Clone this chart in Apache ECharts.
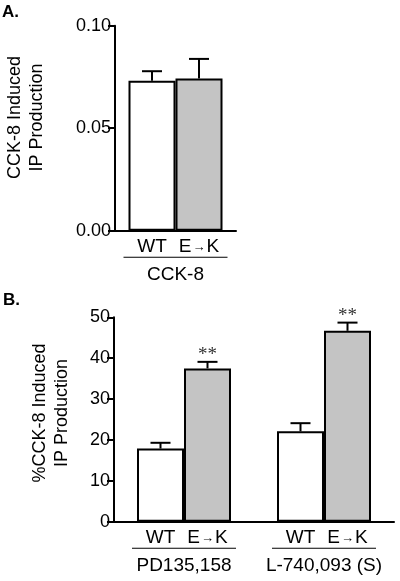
<!DOCTYPE html>
<html>
<head>
<meta charset="utf-8">
<script src="https://cdn.jsdelivr.net/npm/echarts@6/dist/echarts.min.js"></script>
<style>
  html, body { margin: 0; padding: 0; background: #fff; }
  #chart { width: 400px; height: 581px; }
</style>
</head>
<body>
<div id="chart"></div>
<script>
// panel A data
const catsA = ["CCK-8"]
const wtA = [0.0732]
const ekA = [0.0743]
const wtErrA = [0.0046]
const ekErrA = [0.0095]
const sigA = [""]

// panel B data
const catsB = ["PD135,158", "L-740,093 (S)"]
const wtB = [17.9, 22.1]
const ekB = [37.5, 46.7]
const wtErrB = [1.4, 2.0]
const ekErrB = [1.6, 2.0]
const sigB = ["**", "**"]

const seriesNames = ["WT", "E\u2192K"]
const FONT = "Liberation Sans"
const GRAY = "#c4c4c4"

// error bar drawn from bar top upward, offset to the bar's slot
function errorBar(values, errs, sig, offset) {
  return {
    data: values.map((v, i) => [i, v, errs[i]]),
    renderItem: (params, api) => {
      const i = api.value(0)
      const base = api.coord([i, api.value(1)])
      const top = api.coord([i, api.value(1) + api.value(2)])
      const x = base[0] + offset
      const style = { stroke: "#000", lineWidth: 2 }
      const children = [
        { type: "line", shape: { x1: x, y1: base[1], x2: x, y2: top[1] }, style },
        { type: "line", shape: { x1: x - 10, y1: top[1], x2: x + 10, y2: top[1] }, style }
      ]
      if (sig[i]) {
        children.push({
          type: "text",
          style: {
            text: sig[i], x: x, y: top[1] - 7,
            align: "center", verticalAlign: "middle",
            font: "19px 'Liberation Serif'", fill: "#333"
          }
        })
      }
      return { type: "group", children }
    }
  }
}

function barSeries(name, values, axisIdx, fill) {
  return {
    type: "bar",
    name,
    xAxisIndex: axisIdx,
    yAxisIndex: axisIdx,
    data: values,
    barWidth: 47,
    barGap: "0%",
    itemStyle: { color: fill, borderColor: "#000", borderWidth: 2 },
    label: {
      show: true, position: "bottom", distance: 7,
      color: "#000", fontFamily: FONT, fontSize: 19,
      // small arrow between E and K, as in the figure
      formatter: () => "{t|" + name.replace("\u2192", "}{a|\u2192}{t|") + "}",
      rich: {
        t: { color: "#000", fontFamily: FONT, fontSize: 19 },
        a: { color: "#000", fontFamily: FONT, fontSize: 13, padding: [1, 1, 0, 1] }
      }
    },
    z: 2
  }
}

function errSeries(values, errs, sig, axisIdx, offset) {
  return Object.assign({
    type: "custom",
    xAxisIndex: axisIdx,
    yAxisIndex: axisIdx,
    encode: { x: 0, y: 1 },
    silent: true,
    z: 3
  }, errorBar(values, errs, sig, offset))
}

const xAxisCommon = {
  type: "category",
  axisLine: { lineStyle: { color: "#000", width: 2 } },
  axisTick: { show: false },
  axisLabel: {
    margin: 26,
    interval: 0,
    color: "#000",
    fontFamily: FONT,
    fontSize: 19,
    formatter: (v) => "{u|}\n{n|" + v + "}",
    rich: {
      u: { width: 104, height: 1, backgroundColor: "#000", align: "center" },
      n: { fontFamily: FONT, fontSize: 19, color: "#000", lineHeight: 34, align: "center" }
    }
  }
}

const yAxisCommon = {
  type: "value",
  splitLine: { show: false },
  axisLine: { show: true, lineStyle: { color: "#000", width: 2 } },
  axisTick: { show: true, length: 7, lineStyle: { color: "#000", width: 2 } },
  axisLabel: { color: "#000", fontFamily: FONT, fontSize: 18, margin: 4 }
}

const chart = echarts.init(document.getElementById("chart"), null, { renderer: "canvas" })

chart.setOption({
  backgroundColor: "#fff",
  animation: false,
  grid: [
    { left: 115, top: 25.7, width: 121, height: 205 },
    { left: 114, top: 317.3, width: 280, height: 204.4 }
  ],
  xAxis: [
    Object.assign({}, xAxisCommon, { gridIndex: 0, data: catsA }),
    Object.assign({}, xAxisCommon, { gridIndex: 1, data: catsB })
  ],
  yAxis: [
    Object.assign({}, yAxisCommon, {
      gridIndex: 0, min: 0, max: 0.1, interval: 0.05,
      axisLabel: Object.assign({}, yAxisCommon.axisLabel, { formatter: (v) => v.toFixed(2) })
    }),
    Object.assign({}, yAxisCommon, { gridIndex: 1, min: 0, max: 50, interval: 10 })
  ],
  graphic: [
    { type: "text", left: 2, top: 4, style: { text: "A.", font: "bold 17px 'Liberation Sans'", fill: "#000" } },
    { type: "text", left: 3, top: 292, style: { text: "B.", font: "bold 17px 'Liberation Sans'", fill: "#000" } },
    {
      type: "text", x: 26.5, y: 117.5, rotation: Math.PI / 2,
      style: {
        text: "CCK-8 Induced\nIP Production", align: "center", verticalAlign: "middle",
        font: "18px 'Liberation Sans'", lineHeight: 22, fill: "#000"
      }
    },
    {
      type: "text", x: 51, y: 413, rotation: Math.PI / 2,
      style: {
        text: "%CCK-8 Induced\nIP Production", align: "center", verticalAlign: "middle",
        font: "18px 'Liberation Sans'", lineHeight: 22, fill: "#000"
      }
    }
  ],
  series: [
    barSeries(seriesNames[0], wtA, 0, "#fff"),
    barSeries(seriesNames[1], ekA, 0, GRAY),
    errSeries(wtA, wtErrA, sigA, 0, -23.5),
    errSeries(ekA, ekErrA, sigA, 0, 23.5),
    barSeries(seriesNames[0], wtB, 1, "#fff"),
    barSeries(seriesNames[1], ekB, 1, GRAY),
    errSeries(wtB, wtErrB, sigB.map(() => ""), 1, -23.5),
    errSeries(ekB, ekErrB, sigB, 1, 23.5)
  ]
})
</script>
</body>
</html>
